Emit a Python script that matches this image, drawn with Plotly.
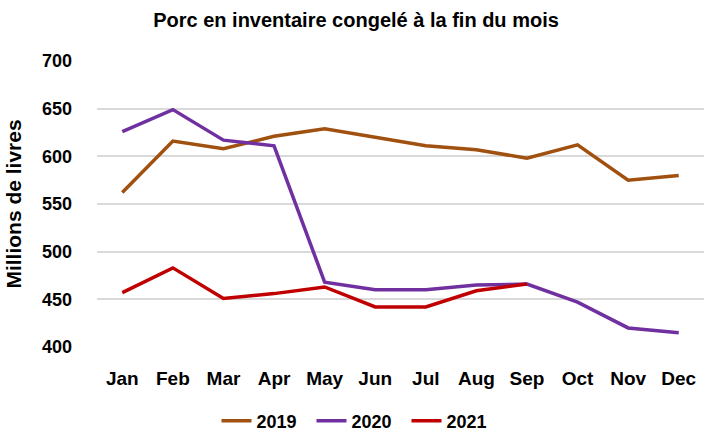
import plotly.graph_objects as go

months = ["Jan", "Feb", "Mar", "Apr", "May", "Jun", "Jul", "Aug", "Sep", "Oct", "Nov", "Dec"]
y2019 = [562, 616, 608, 621, 629, 620, 611, 607, 598, 612, 575, 580]
y2020 = [626, 649, 617, 611, 468, 460, 460, 465, 466, 447, 420, 415]
y2021 = [457, 483, 451, 456, 463, 442, 442, 459, 466]
yticks = [400, 450, 500, 550, 600, 650, 700]

font_family = "Liberation Sans, Arial, sans-serif"

fig = go.Figure()
fig.add_trace(go.Scatter(x=months, y=y2019, mode="lines", name="<b>2019</b>",
                         line=dict(color="#A0500F", width=3.5)))
fig.add_trace(go.Scatter(x=months, y=y2020, mode="lines", name="<b>2020</b>",
                         line=dict(color="#7030A0", width=3.5)))
fig.add_trace(go.Scatter(x=months[:len(y2021)], y=y2021, mode="lines", name="<b>2021</b>",
                         line=dict(color="#C00000", width=3.5)))

fig.update_layout(
    width=704, height=431,
    margin=dict(l=97, r=0, t=61, b=84, autoexpand=False),
    paper_bgcolor="white", plot_bgcolor="white",
    font=dict(family=font_family, color="black"),
    title=dict(text="<b>Porc en inventaire congelé à la fin du mois</b>",
               x=356 / 704, xanchor="center", xref="container", y=1 - 20 / 431, yanchor="middle",
               yref="container",
               font=dict(size=20, family=font_family, color="black")),
    xaxis=dict(categoryorder="array", categoryarray=months, range=[-0.5, 11.5],
               automargin=False,
               showgrid=False, showline=False, zeroline=False,
               tickfont=dict(size=19, family=font_family), ticks="",
               ticklabelstandoff=18,
               tickvals=months, ticktext=[f"<b>{m}</b>" for m in months]),
    yaxis=dict(range=[400, 700], tickvals=yticks, automargin=False,
               ticktext=[f"<b>{v}</b>" for v in yticks],
               showgrid=True, gridcolor="#D9D9D9", gridwidth=1.5,
               zeroline=False, showline=False, ticks="",
               tickfont=dict(size=18, family=font_family),
               ticklabelstandoff=24,
               title=dict(text="<b>Millions de livres</b>", standoff=14,
                          font=dict(size=21, family=font_family))),
    legend=dict(orientation="h", x=359 / 704, xref="container", xanchor="center",
                y=1 - 421 / 431, yref="container", yanchor="middle",
                font=dict(size=18, family=font_family), itemwidth=30,
                entrywidth=50, entrywidthmode="pixels",
                traceorder="normal"),
    showlegend=True,
)

fig.write_html("out.html", config={"displayModeBar": False},
               post_script="document.body.style.margin='0';document.body.style.padding='0';")
